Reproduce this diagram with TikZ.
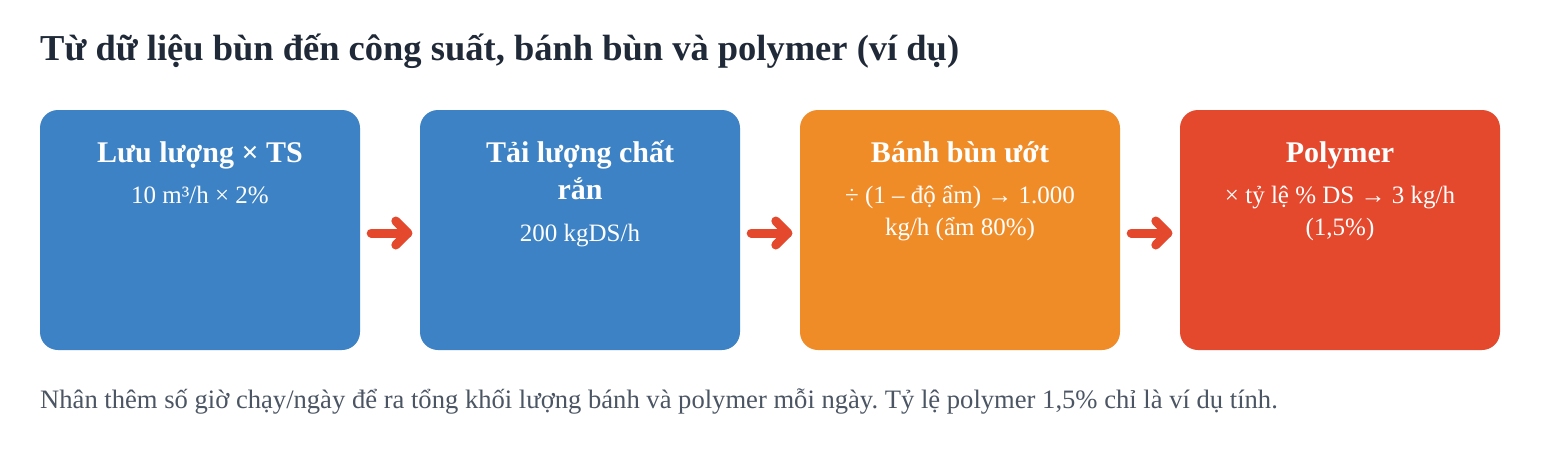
\documentclass[tikz,border=0pt]{standalone}
\usepackage{fontspec}
\setmainfont{Liberation Serif}
\usetikzlibrary{calc}
\frenchspacing
\definecolor{cblue}{HTML}{3C82C4}
\definecolor{corange}{HTML}{F08C28}
\definecolor{cred}{HTML}{E5492D}
\definecolor{ctitle}{HTML}{1F2937}
\definecolor{cfoot}{HTML}{4B5563}
\tikzset{
  stepbox/.style={rectangle, rounded corners=18pt, minimum width=320pt, minimum height=240pt, inner sep=0pt, draw=none},
  boxtitle/.style={anchor=base, text=white, inner sep=0pt, font=\fontsize{30}{37}\selectfont\bfseries},
  boxsub/.style={anchor=base, text=white, inner sep=0pt, font=\fontsize{25}{32}\selectfont},
  arr/.style={draw=cred, line width=9pt, line cap=round, line join=round},
}
\begin{document}
\begin{tikzpicture}[x=1pt,y=-1pt]
\useasboundingbox (0,0) rectangle (1560,450);
\fill[white] (0,0) rectangle (1560,450);
\node[anchor=base west, inner sep=0pt, text=ctitle, font=\fontsize{36.5}{42}\selectfont\bfseries] (title) at (40,60) {Từ dữ liệu bùn đến công suất, bánh bùn và polymer (ví dụ)};

\node[stepbox, fill=cblue] (b1) at (200,230) {};
\node[stepbox, fill=cblue] (b2) at (580,230) {};
\node[stepbox, fill=corange] (b3) at (960,230) {};
\node[stepbox, fill=cred] (b4) at (1340,230) {};

\node[boxtitle] (t1) at (200,162) {Lưu lượng × TS};
\node[boxsub] (s1) at (200,203) {10 m³/h × 2\%};

\node[boxtitle] (t2a) at (580,162) {Tải lượng chất};
\node[boxtitle] (t2b) at (580,199) {rắn};
\node[boxsub] (s2) at (580,241) {200 kgDS/h};

\node[boxtitle] (t3) at (960,162) {Bánh bùn ướt};
\node[boxsub] (s3a) at (960,203) {÷ (1 – độ ẩm) → 1.000};
\node[boxsub] (s3b) at (960,235) {kg/h (ẩm 80\%)};

\node[boxtitle] (t4) at (1340,162) {Polymer};
\node[boxsub] (s4a) at (1340,203) {× tỷ lệ \% DS → 3 kg/h};
\node[boxsub] (s4b) at (1340,235) {(1,5\%)};

\foreach \a/\b in {b1/b2, b2/b3, b3/b4}{
  \draw[arr] ([xshift=11pt,yshift=-3pt]\a.east) -- ([xshift=-12pt,yshift=-3pt]\b.west) coordinate (e);
  \draw[arr] ([xshift=-12pt,yshift=12pt]e) -- (e) -- ([xshift=-12pt,yshift=-12pt]e);
}

\node[anchor=base west, inner sep=0pt, text=cfoot, font=\fontsize{26.6}{32}\selectfont] (foot) at (40,408) {Nhân thêm số giờ chạy/ngày để ra tổng khối lượng bánh và polymer mỗi ngày. Tỷ lệ polymer 1,5\% chỉ là ví dụ tính.};
\end{tikzpicture}
\end{document}
